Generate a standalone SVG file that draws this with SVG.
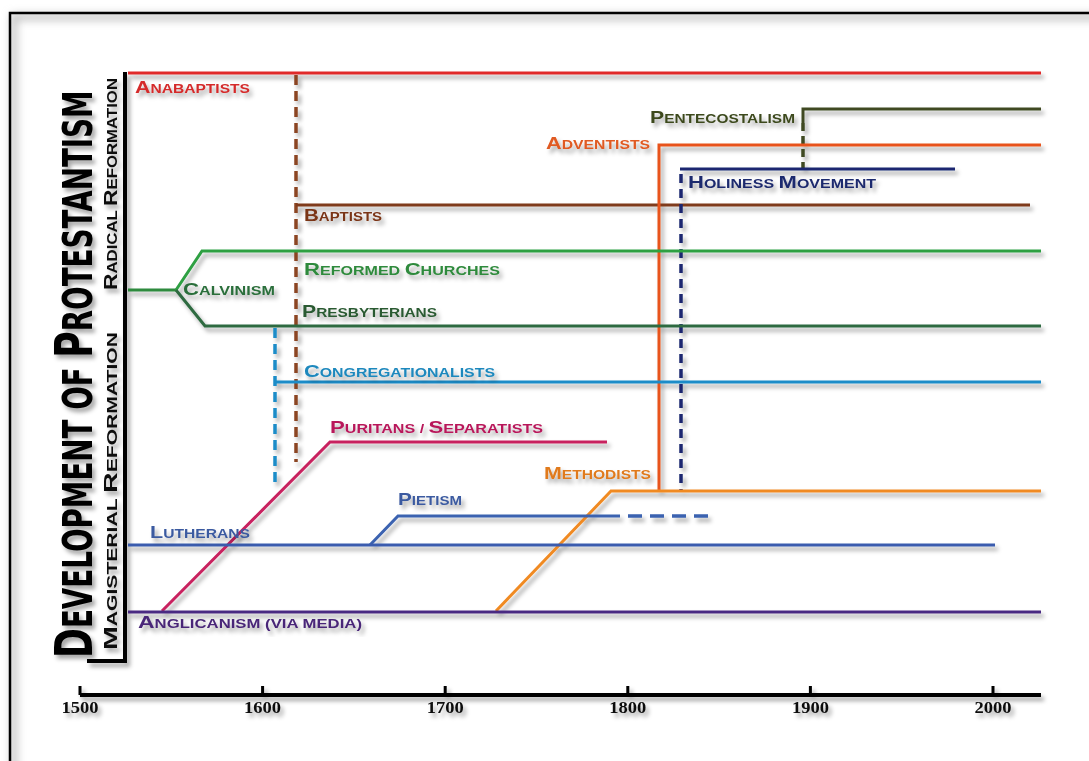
<svg xmlns="http://www.w3.org/2000/svg" width="1089" height="761" viewBox="0 0 1089 761">
  <defs>
    <filter id="sh" x="-10%" y="-10%" width="130%" height="140%">
      <feDropShadow dx="3" dy="4" stdDeviation="2" flood-color="#000" flood-opacity="0.35"/>
    </filter>
    <filter id="inner" x="-5%" y="-5%" width="110%" height="110%">
      <feGaussianBlur stdDeviation="4"/>
    </filter>
    <style>
      .ln { fill: none; stroke-width: 3; stroke-linecap: butt; stroke-linejoin: miter; }
      .dash { stroke-dasharray: 10 6; stroke-width: 3.5; }
      .lbl { font-family: "Liberation Sans", Arial, sans-serif; font-weight: bold; font-size: 12px; }
      .lbl .b { font-size: 16.5px; }
      .title { font-family: "DejaVu Sans", "Liberation Sans", sans-serif; font-weight: bold; font-size: 40px; fill: #000; }
      .title .b { font-size: 52px; }
      .sub { font-family: "Liberation Sans", Arial, sans-serif; font-weight: bold; font-size: 14px; fill: #111; }
      .sub .b { font-size: 19px; }
      .yr { font-family: "Liberation Serif", "Times New Roman", serif; font-weight: bold; font-size: 16px; fill: #111; }
    </style>
  </defs>

  <rect x="0" y="0" width="1089" height="761" fill="#fff"/>
  <!-- frame -->
  <g id="frame">
    <rect x="14" y="17" width="1100" height="800" fill="none" stroke="#bbb" stroke-width="6" filter="url(#inner)"/>
    <rect x="10" y="13" width="1100" height="800" fill="none" stroke="#000" stroke-width="2.5"/>
  </g>

  <!-- title & bracket -->
  <g id="title" filter="url(#sh)">
    <path d="M125,72 V661 H87" fill="none" stroke="#000" stroke-width="4"/>
    <text class="title" transform="translate(92,658) rotate(-90) scale(0.694,1)" textLength="818" lengthAdjust="spacingAndGlyphs"><tspan class="b">D</tspan>EVELOPMENT OF <tspan class="b">P</tspan>ROTESTANTISM</text>
    <text class="sub" transform="translate(117,650) rotate(-90)" textLength="318" lengthAdjust="spacingAndGlyphs"><tspan class="b">M</tspan>AGISTERIAL <tspan class="b">R</tspan>EFORMATION</text>
    <text class="sub" transform="translate(117,290) rotate(-90)" textLength="212" lengthAdjust="spacingAndGlyphs"><tspan class="b">R</tspan>ADICAL <tspan class="b">R</tspan>EFORMATION</text>
  </g>

  <!-- connectors / lines -->
  <g id="connectors" filter="url(#sh)">
    <path class="ln" d="M128,73 H1041" stroke="#e02a2a"/>
    <path class="ln dash" d="M296,75 V462" stroke="#8b4520"/>
    <path class="ln" d="M296,205 H1030" stroke="#7f3a1a"/>
    <path class="ln" d="M803,123 V109 H1041" stroke="#3f4a22" stroke-width="3.5"/>
    <path class="ln dash" d="M803,123 V168" stroke="#3f4a22" style="stroke-dasharray:8 5"/>
    <path class="ln" d="M659,491 V145 H1041" stroke="#e8521c"/>
    <path class="ln" d="M680,169 H955" stroke="#1c2870" stroke-width="3.5"/>
    <path class="ln dash" d="M681,174 V491" stroke="#1c2870" style="stroke-dasharray:9 6"/>
    <path class="ln" d="M128,290 H176" stroke="#2e8a3e"/>
    <path class="ln" d="M176,290 L202,251 H1041" stroke="#2ea043"/>
    <path class="ln" d="M176,290 L205,326 H1041" stroke="#2e6a40"/>
    <path class="ln" d="M275,382 H1041" stroke="#1b8cc8"/>
    <path class="ln dash" d="M275,328 V487" stroke="#1b8cc8"/>
    <path class="ln" d="M162,611 L330,442 H607" stroke="#c8205e"/>
    <path class="ln" d="M496,611 L611,491 H1041" stroke="#f08a24"/>
    <path class="ln" d="M370,545 L398,516 H620" stroke="#3b62b0"/>
    <path class="ln dash" d="M628,516 H715" stroke="#3b62b0" style="stroke-dasharray:14 8"/>
    <path class="ln" d="M128,545 H995" stroke="#3b5cae"/>
    <path class="ln" d="M128,612 H1041" stroke="#4a2a82"/>
  </g>

  <!-- nodes (labels) -->
  <g id="anabaptists" filter="url(#sh)"><text class="lbl" x="135" y="93" fill="#d42a2a" textLength="115" lengthAdjust="spacingAndGlyphs"><tspan class="b">A</tspan>NABAPTISTS</text></g>
  <g id="pentecostalism" filter="url(#sh)"><text class="lbl" x="650" y="123" fill="#3d4a1f" textLength="145" lengthAdjust="spacingAndGlyphs"><tspan class="b">P</tspan>ENTECOSTALISM</text></g>
  <g id="adventists" filter="url(#sh)"><text class="lbl" x="546" y="149" fill="#e05a22" textLength="104" lengthAdjust="spacingAndGlyphs"><tspan class="b">A</tspan>DVENTISTS</text></g>
  <g id="holiness" filter="url(#sh)"><text class="lbl" x="688" y="188" fill="#1f2b6e" textLength="188" lengthAdjust="spacingAndGlyphs"><tspan class="b">H</tspan>OLINESS <tspan class="b">M</tspan>OVEMENT</text></g>
  <g id="baptists" filter="url(#sh)"><text class="lbl" x="304" y="221" fill="#7a3418" textLength="78" lengthAdjust="spacingAndGlyphs"><tspan class="b">B</tspan>APTISTS</text></g>
  <g id="reformed" filter="url(#sh)"><text class="lbl" x="304" y="275" fill="#2f8a3c" textLength="196" lengthAdjust="spacingAndGlyphs"><tspan class="b">R</tspan>EFORMED <tspan class="b">C</tspan>HURCHES</text></g>
  <g id="calvinism" filter="url(#sh)"><text class="lbl" x="183" y="295" fill="#2a6e3a" textLength="92" lengthAdjust="spacingAndGlyphs"><tspan class="b">C</tspan>ALVINISM</text></g>
  <g id="presbyterians" filter="url(#sh)"><text class="lbl" x="302" y="317" fill="#2a5a32" textLength="135" lengthAdjust="spacingAndGlyphs"><tspan class="b">P</tspan>RESBYTERIANS</text></g>
  <g id="congregationalists" filter="url(#sh)"><text class="lbl" x="304" y="377" fill="#1e88bd" textLength="191" lengthAdjust="spacingAndGlyphs"><tspan class="b">C</tspan>ONGREGATIONALISTS</text></g>
  <g id="puritans" filter="url(#sh)"><text class="lbl" x="330" y="433" fill="#b8185a" textLength="213" lengthAdjust="spacingAndGlyphs"><tspan class="b">P</tspan>URITANS / <tspan class="b">S</tspan>EPARATISTS</text></g>
  <g id="methodists" filter="url(#sh)"><text class="lbl" x="544" y="479" fill="#e07a1c" textLength="107" lengthAdjust="spacingAndGlyphs"><tspan class="b">M</tspan>ETHODISTS</text></g>
  <g id="pietism" filter="url(#sh)"><text class="lbl" x="398" y="505" fill="#3b5aa0" textLength="64" lengthAdjust="spacingAndGlyphs"><tspan class="b">P</tspan>IETISM</text></g>
  <g id="lutherans" filter="url(#sh)"><text class="lbl" x="150" y="538" fill="#3b5aa0" textLength="100" lengthAdjust="spacingAndGlyphs"><tspan class="b">L</tspan>UTHERANS</text></g>
  <g id="anglicanism" filter="url(#sh)"><text class="lbl" x="138" y="628" fill="#4a2878" textLength="224" lengthAdjust="spacingAndGlyphs"><tspan class="b">A</tspan>NGLICANISM (VIA MEDIA)</text></g>

  <!-- axis -->
  <g id="axis" filter="url(#sh)">
    <path d="M80,695 H1041" stroke="#000" stroke-width="4" fill="none"/>
    <path d="M80,686 V695 M262.6,686 V695 M445.2,686 V695 M627.8,686 V695 M810.4,686 V695 M993,686 V695" stroke="#000" stroke-width="3" fill="none"/>
    <text class="yr" x="80" y="713" text-anchor="middle" textLength="37" lengthAdjust="spacingAndGlyphs">1500</text>
    <text class="yr" x="262.6" y="713" text-anchor="middle" textLength="37" lengthAdjust="spacingAndGlyphs">1600</text>
    <text class="yr" x="445.2" y="713" text-anchor="middle" textLength="37" lengthAdjust="spacingAndGlyphs">1700</text>
    <text class="yr" x="627.8" y="713" text-anchor="middle" textLength="37" lengthAdjust="spacingAndGlyphs">1800</text>
    <text class="yr" x="810.4" y="713" text-anchor="middle" textLength="37" lengthAdjust="spacingAndGlyphs">1900</text>
    <text class="yr" x="993" y="713" text-anchor="middle" textLength="37" lengthAdjust="spacingAndGlyphs">2000</text>
  </g>
</svg>
